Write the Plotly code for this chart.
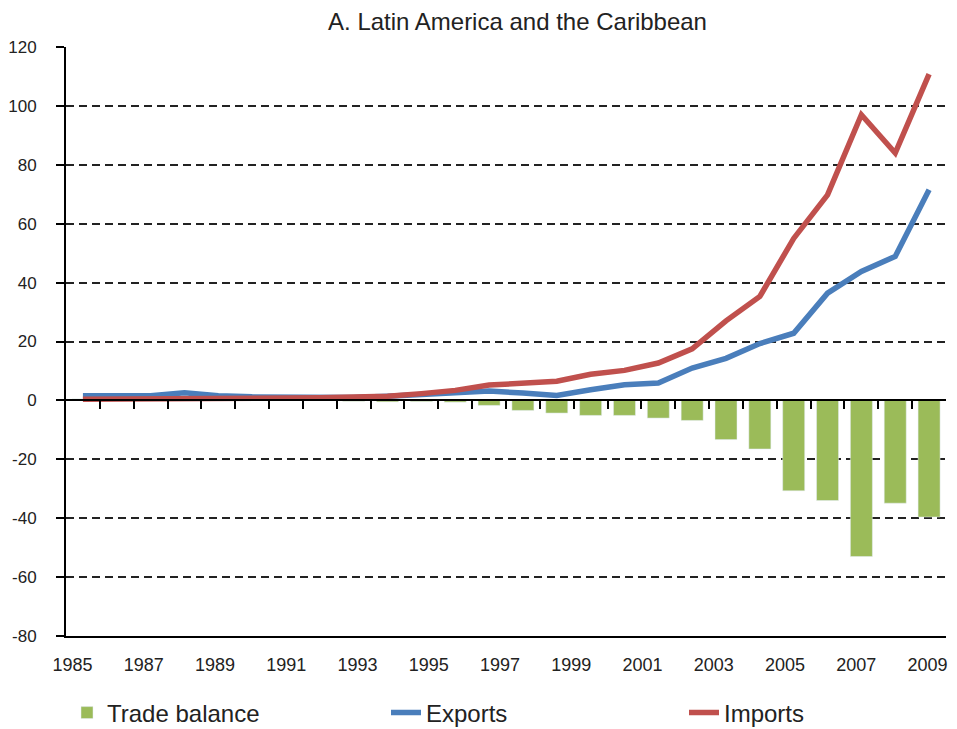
import plotly.graph_objects as go

years = list(range(1984, 2010))
label_years = list(range(1985, 2010, 2))
y_ticks = list(range(-80, 121, 20))

exports = [1.6, 1.5, 1.6, 2.6, 1.6, 1.2, 1.1, 1.1, 1.0, 1.4, 2.0, 2.6, 3.2,
           2.5, 1.7, 3.6, 5.3, 5.9, 11.0, 14.3, 19.3, 22.8, 36.4, 43.8, 48.9, 71.5]
imports = [0.4, 0.4, 0.4, 0.5, 0.5, 0.6, 0.8, 0.9, 1.0, 1.4, 2.3, 3.4, 5.2,
           5.9, 6.5, 8.9, 10.2, 12.7, 17.5, 27.0, 35.3, 55.0, 69.8, 97.0, 84.0, 110.8]
trade_balance = [0.5, 0.3, 0.3, 1.0, 0.5, 0.3, 0.3, 0.2, -0.3, -0.5, -0.4, -0.6, -1.7,
                 -3.4, -4.3, -5.1, -5.1, -6.0, -6.8, -13.3, -16.5, -30.7, -34.0, -53.0, -34.9, -39.6]

GREEN = "#9BBB59"
BLUE = "#4A7EBB"
RED = "#C0504D"
FONT = "Liberation Sans, Arial, sans-serif"
INK = "#222222"

# the page body adds an 8px margin, so the figure is drawn 8px smaller
W, H = 949, 721

fig = go.Figure()
fig.add_trace(go.Bar(x=years, y=trade_balance, name="Trade balance",
                     marker_color=GREEN, width=0.65, legend="legend"))
fig.add_trace(go.Scatter(x=years, y=exports, name="Exports", mode="lines",
                         line=dict(color=BLUE, width=5.5), legend="legend2"))
fig.add_trace(go.Scatter(x=years, y=imports, name="Imports", mode="lines",
                         line=dict(color=RED, width=5.5), legend="legend3"))
# empty trace so the label axis is drawn
fig.add_trace(go.Scatter(x=label_years, y=[None] * len(label_years), xaxis="x2",
                         showlegend=False, hoverinfo="skip"))

legend_style = dict(orientation="h", xref="container", yref="container",
                    yanchor="middle", y=16 / H, xanchor="left",
                    font=dict(size=24, family=FONT, color=INK),
                    bgcolor="rgba(0,0,0,0)")

fig.update_layout(
    width=W, height=H,
    margin=dict(l=58, r=11, t=39, b=93),
    paper_bgcolor="white", plot_bgcolor="white",
    font=dict(family=FONT, color=INK, size=18),
    title=dict(text="A. Latin America and the Caribbean", x=509.5 / W, xref="container",
               xanchor="center", y=1 - 14 / H, yref="container", yanchor="middle",
               font=dict(size=24, family=FONT, color=INK)),
    barmode="relative",
    legend=dict(x=59 / W, **legend_style),
    legend2=dict(x=378 / W, **legend_style),
    legend3=dict(x=676 / W, **legend_style),
    xaxis=dict(range=[1983.5, 2009.5], anchor="free", position=0.4,
               showline=True, linecolor="black", linewidth=2,
               ticks="outside", ticklen=8, tickwidth=2, tickcolor="black",
               tickvals=[y + 0.5 for y in years[:-1]],
               showticklabels=False, showgrid=False, zeroline=False,
               automargin=False),
    xaxis2=dict(overlaying="x", anchor="y", side="bottom",
                range=[1984.82, 2009.52], tickvals=label_years,
                ticktext=[str(y) for y in label_years],
                showline=True, linecolor="black", linewidth=2,
                ticks="", showgrid=False, zeroline=False, automargin=False,
                ticklabelstandoff=11, tickfont=dict(size=18)),
    yaxis=dict(range=[-80, 120], tickvals=y_ticks,
               ticktext=[str(v) for v in y_ticks],
               showline=True, linecolor="black",
               linewidth=2, ticks="outside", ticklen=8, tickwidth=2,
               tickcolor="black", showgrid=True, gridcolor="#222222",
               gridwidth=1.5, griddash="8px,5px", zeroline=False,
               automargin=False, ticklabelstandoff=16, tickfont=dict(size=17)),
)

fig.write_html("out.html")
